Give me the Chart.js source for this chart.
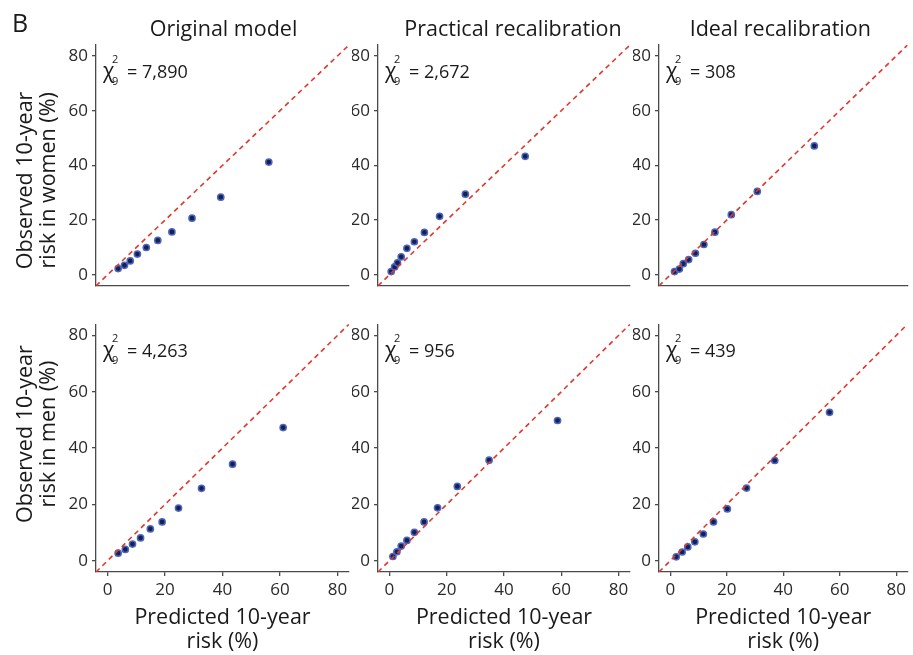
<!DOCTYPE html>
<html>
<head>
<meta charset="utf-8">
<script src="https://cdn.jsdelivr.net/npm/chart.js@4.4.1/dist/chart.umd.min.js"></script>
<style>
  html, body { margin: 0; padding: 0; background: #fff; }
  #fig { position: relative; width: 913px; height: 655px; overflow: hidden; }
  #fig canvas { position: absolute; }
</style>
</head>
<body>
<div id="fig"></div>
<script>
const panelTitles = ['Original model', 'Practical recalibration', 'Ideal recalibration'];
const rowTitles = [['Observed 10-year', 'risk in women (%)'], ['Observed 10-year', 'risk in men (%)']];
const xTitle = ['Predicted 10-year', 'risk (%)'];
const tickValues = [0, 20, 40, 60, 80];
const chiWomen = ['7,890', '2,672', '308'];
const chiMen = ['4,263', '956', '439'];
const chiDf = '9';

// predicted (x) vs observed (y) risk per tenth
const womenOrigPred = [3.7, 5.9, 7.9, 10.4, 13.5, 17.5, 22.4, 29.4, 39.4, 56.1];
const womenOrigObs  = [2.3, 3.5, 5.1, 7.6, 10.0, 12.6, 15.7, 20.7, 28.4, 41.2];
const womenPracPred = [0.6, 1.8, 2.8, 4.1, 6.1, 8.7, 12.2, 17.5, 26.5, 47.4];
const womenPracObs  = [1.2, 2.9, 4.4, 6.6, 9.7, 12.1, 15.5, 21.4, 29.5, 43.3];
const womenIdealPred = [1.5, 3.2, 4.6, 6.5, 8.9, 11.9, 15.8, 21.6, 30.8, 51.0];
const womenIdealObs  = [1.2, 2.1, 4.1, 5.6, 7.9, 11.1, 15.6, 22.0, 30.5, 47.1];
const menOrigPred = [3.7, 6.2, 8.7, 11.5, 14.9, 19.0, 24.7, 32.7, 43.5, 61.1];
const menOrigObs  = [2.7, 4.0, 5.9, 8.1, 11.3, 13.8, 18.7, 25.7, 34.3, 47.3];
const menPracPred = [1.2, 2.6, 4.1, 6.1, 8.7, 12.1, 16.8, 23.7, 34.8, 58.7];
const menPracObs  = [1.5, 3.2, 5.2, 7.2, 10.1, 13.8, 18.8, 26.4, 35.7, 49.8];
const menIdealPred = [2.1, 4.2, 6.2, 8.7, 11.7, 15.3, 20.2, 27.0, 37.0, 56.4];
const menIdealObs  = [1.4, 3.1, 4.9, 6.7, 9.5, 13.8, 18.4, 25.8, 35.6, 52.7];

const axisMin = -4, axisMax = 84;

// page layout of the 2x3 grid
const colLeft = [0, 352, 633], colWidth = [356, 284, 280];
const yAxisW = [96, 26, 26], padRight = [7, 6, 1];
const titleShift = [1, 9, -3];
const rowTop = [0, 310], rowHeight = [300, 345];
const padTop = [45, 8], xAxisH = [3, 83];
const yTitleShift = [15, -14];

const axisColor = '#4a4a4a';
const textColor = '#1a1a1a';
const font = '"Open Sans"';

const panels = [
  {row: 0, col: 0, pred: womenOrigPred, obs: womenOrigObs, chi: chiWomen[0]},
  {row: 0, col: 1, pred: womenPracPred, obs: womenPracObs, chi: chiWomen[1]},
  {row: 0, col: 2, pred: womenIdealPred, obs: womenIdealObs, chi: chiWomen[2]},
  {row: 1, col: 0, pred: menOrigPred, obs: menOrigObs, chi: chiMen[0]},
  {row: 1, col: 1, pred: menPracPred, obs: menPracObs, chi: chiMen[1]},
  {row: 1, col: 2, pred: menIdealPred, obs: menIdealObs, chi: chiMen[2]}
];

const panelText = {
  id: 'panelText',
  afterDraw(chart, args, o) {
    const {ctx, chartArea: a} = chart;
    ctx.save();
    ctx.fillStyle = textColor;
    ctx.textBaseline = 'alphabetic';
    if (o.letter) {
      ctx.font = '25px ' + font;
      ctx.textAlign = 'left';
      ctx.fillText(o.letter, 12, 32);
    }
    if (o.title) {
      ctx.font = '21.5px ' + font;
      ctx.textAlign = 'center';
      ctx.fillText(o.title, (a.left + a.right) / 2 + o.titleShift, a.top - 9);
    }
    // chi-square label
    ctx.textAlign = 'left';
    ctx.font = '21px ' + font;
    ctx.fillText('\u03c7', a.left + 7, a.top + 33);
    ctx.font = '11px ' + font;
    ctx.textBaseline = 'middle';
    ctx.fillText('2', a.left + 16, a.top + 15);
    ctx.fillText(chiDf, a.left + 16, a.top + 37);
    ctx.font = '18px ' + font;
    ctx.textBaseline = 'alphabetic';
    ctx.fillText('= ' + o.chi, a.left + 31, a.top + 33);
    if (o.yTitle) {
      ctx.translate(0, (a.top + a.bottom) / 2 + o.yShift);
      ctx.rotate(-Math.PI / 2);
      ctx.font = '21.5px ' + font;
      ctx.textAlign = 'center';
      ctx.fillText(o.yTitle[0], 0, 32);
      ctx.fillText(o.yTitle[1], 0, 55);
    }
    ctx.restore();
  }
};

function makePanel(p) {
  const fig = document.getElementById('fig');
  const cv = document.createElement('canvas');
  cv.width = colWidth[p.col];
  cv.height = rowHeight[p.row];
  cv.style.left = colLeft[p.col] + 'px';
  cv.style.top = rowTop[p.row] + 'px';
  fig.appendChild(cv);

  const bottomRow = p.row === 1;
  const points = p.pred.map((v, i) => ({x: v, y: p.obs[i]}));

  new Chart(cv, {
    type: 'scatter',
    data: {
      datasets: [
        {
          type: 'line',
          data: [{x: axisMin, y: axisMin}, {x: axisMax, y: axisMax}],
          borderColor: '#e3362c',
          borderWidth: 1.6,
          borderDash: [5, 4],
          pointRadius: 0,
          fill: false
        },
        {
          data: points,
          pointRadius: 3.1,
          backgroundColor: '#17204f',
          borderColor: '#4a66c2',
          borderWidth: 1.5
        }
      ]
    },
    options: {
      responsive: false,
      animation: false,
      events: [],
      layout: {padding: {left: 0, right: padRight[p.col], top: padTop[p.row], bottom: 0}},
      plugins: {
        legend: {display: false},
        tooltip: {enabled: false},
        panelText: {
          letter: p.row === 0 && p.col === 0 ? 'B' : null,
          title: p.row === 0 ? panelTitles[p.col] : null,
          titleShift: titleShift[p.col],
          yTitle: p.col === 0 ? rowTitles[p.row] : null,
          yShift: yTitleShift[p.row],
          chi: p.chi
        }
      },
      scales: {
        x: {
          type: 'linear',
          min: axisMin,
          max: axisMax,
          afterBuildTicks: s => { s.ticks = tickValues.map(v => ({value: v})); },
          afterFit: s => { s.height = xAxisH[p.row]; },
          border: {display: true, color: axisColor, width: 1.3},
          grid: {display: true, drawOnChartArea: false, drawTicks: bottomRow, tickLength: 4, color: axisColor, lineWidth: 1.3},
          ticks: {display: bottomRow, padding: 4, maxRotation: 0, font: {family: font, size: 17}, color: '#2a2a2a'},
          title: {
            display: bottomRow,
            text: xTitle,
            color: textColor,
            font: {family: font, size: 21.5, lineHeight: 1.08},
            padding: {top: 0, bottom: 2}
          }
        },
        y: {
          type: 'linear',
          min: axisMin,
          max: axisMax,
          afterBuildTicks: s => { s.ticks = tickValues.map(v => ({value: v})); },
          afterFit: s => { s.width = yAxisW[p.col]; },
          border: {display: true, color: axisColor, width: 1.3},
          grid: {display: true, drawOnChartArea: false, drawTicks: true, tickLength: 4, color: axisColor, lineWidth: 1.3},
          ticks: {padding: 4, font: {family: font, size: 17}, color: '#2a2a2a'}
        }
      }
    },
    plugins: [panelText]
  });
}

Promise.all([
  document.fonts.load('21px "Open Sans"'),
  document.fonts.load('21px "Open Sans"', '\u03c7')
]).catch(() => {}).then(() => panels.forEach(makePanel));
</script>
</body>
</html>
